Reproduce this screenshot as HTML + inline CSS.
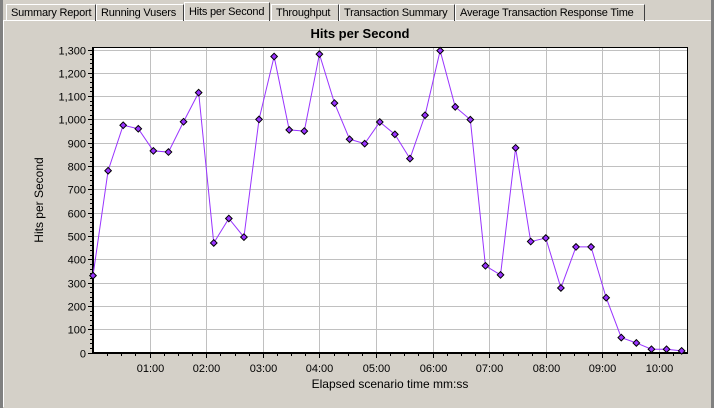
<!DOCTYPE html>
<html><head><meta charset="utf-8"><style>
body{margin:0;width:714px;height:408px;background:#d4d0c8;font-family:"Liberation Sans",sans-serif;overflow:hidden;position:relative}
.tab{position:absolute;top:4px;height:17px;font-size:11px;line-height:17px;padding:0 0 0 4px;border-left:1px solid #fff;border-top:1px solid #fff;border-right:1px solid #404040;box-sizing:border-box;color:#000;white-space:nowrap;overflow:hidden;letter-spacing:-0.2px}
</style></head><body>
<div style="position:absolute;left:0;top:0;width:3px;height:408px;background:#808080"></div>
<div style="position:absolute;left:711px;top:0;width:3px;height:408px;background:#808080"></div>
<div style="position:absolute;left:3px;top:20px;width:707px;height:386px;border-top:1px solid #fff;border-left:1px solid #fff"></div>
<div class="tab" style="left:6px;width:90px">Summary Report</div>
<div class="tab" style="left:96px;width:88px">Running Vusers</div>
<div class="tab" style="left:184px;top:2px;height:19px;width:86px;line-height:19px">Hits per Second</div>
<div class="tab" style="left:271px;width:68px">Throughput</div>
<div class="tab" style="left:339px;width:116px">Transaction Summary</div>
<div class="tab" style="left:455px;width:190px">Average Transaction Response Time</div>
<svg id="c" width="714" height="408" style="position:absolute;left:0;top:0"></svg>
<script>
const timeLabels=["01:00","02:00","03:00","04:00","05:00","06:00","07:00","08:00","09:00","10:00"];
const yTicks=[0,100,200,300,400,500,600,700,800,900,1000,1100,1200,1300];
const stepSeconds=16;
const hits=[330,780,975,960,865,860,990,1115,470,575,495,1000,1270,955,950,1280,1070,915,896,989,936,832,1018,1295,1054,999,372,333,878,476,491,277,453,453,235,64,41,14,14,7];
const NS="http://www.w3.org/2000/svg",svg=document.getElementById('c');
const L=93,R=687,T=47,B=353;
const x=s=>L+s/60*56.6;
const y=v=>352.5-v*(303/1300);
function el(t,a,p){const e=document.createElementNS(NS,t);for(const k in a)e.setAttribute(k,a[k]);(p||svg).appendChild(e);return e;}
const bg=el('rect',{x:L,y:T,width:R-L,height:B-T,fill:'#fff'});


const title=el('text',{x:360,y:38,'text-anchor':'middle','font-size':13,'font-weight':'bold'});title.textContent='Hits per Second';


yTicks.forEach(v=>{const yy=Math.round(y(v))+0.5;
 if(v>0){const g=el('line',{x1:L,x2:R,y1:yy,y2:yy,stroke:'#c0c0c0'});}
 el('line',{x1:L-5,x2:L,y1:yy,y2:yy,stroke:'#000'});
 const t=el('text',{x:L-7,y:yy+4,'text-anchor':'end','font-size':11});t.textContent=v.toLocaleString('en-US');
 
 
 for(let k=1;k<5&&v<1300;k++){const my=Math.round(y(v+k*20))+0.5;el('line',{x1:L-3,x2:L,y1:my,y2:my,stroke:'#000'});}
});
timeLabels.forEach((lb,i)=>{const xx=Math.round(x((i+1)*60))+0.5;
 const g=el('line',{x1:xx,x2:xx,y1:T,y2:B,stroke:'#c0c0c0'});
 el('line',{x1:xx,x2:xx,y1:B,y2:B+5,stroke:'#000'});
 const t=el('text',{x:xx,y:B+19,'text-anchor':'middle','font-size':11});t.textContent=lb;
 
 
});
for(let s=15;s<630;s+=15){if(s%60){const xx=Math.round(x(s))+0.5;el('line',{x1:xx,x2:xx,y1:B,y2:B+3,stroke:'#000'});}}
el('rect',{x:L+0.5,y:T+0.5,width:R-L,height:B-T,fill:'none',stroke:'#000'});
el('line',{x1:L,x2:L,y1:T,y2:B+1,stroke:'#000','stroke-width':2});
el('line',{x1:L,x2:R,y1:B,y2:B,stroke:'#000','stroke-width':2});
const pts=hits.map((v,i)=>[x(i*stepSeconds),y(v)]);
const line=el('polyline',{points:pts.map(p=>p.join(',')).join(' '),fill:'none',stroke:'#9933ff','stroke-width':1});


pts.forEach(p=>{const d=el('path',{d:`M${p[0]} ${p[1]-3.3}L${p[0]+3.3} ${p[1]}L${p[0]} ${p[1]+3.3}L${p[0]-3.3} ${p[1]}Z`,fill:'#9933ff',stroke:'#000','stroke-width':1});
 
 });
const xl=el('text',{x:390,y:388,'text-anchor':'middle','font-size':12});xl.textContent='Elapsed scenario time mm:ss';


const yl=el('text',{x:0,y:0,'text-anchor':'middle','font-size':12,transform:'translate(43,200) rotate(-90)'});yl.textContent='Hits per Second';


</script>
</body></html>
